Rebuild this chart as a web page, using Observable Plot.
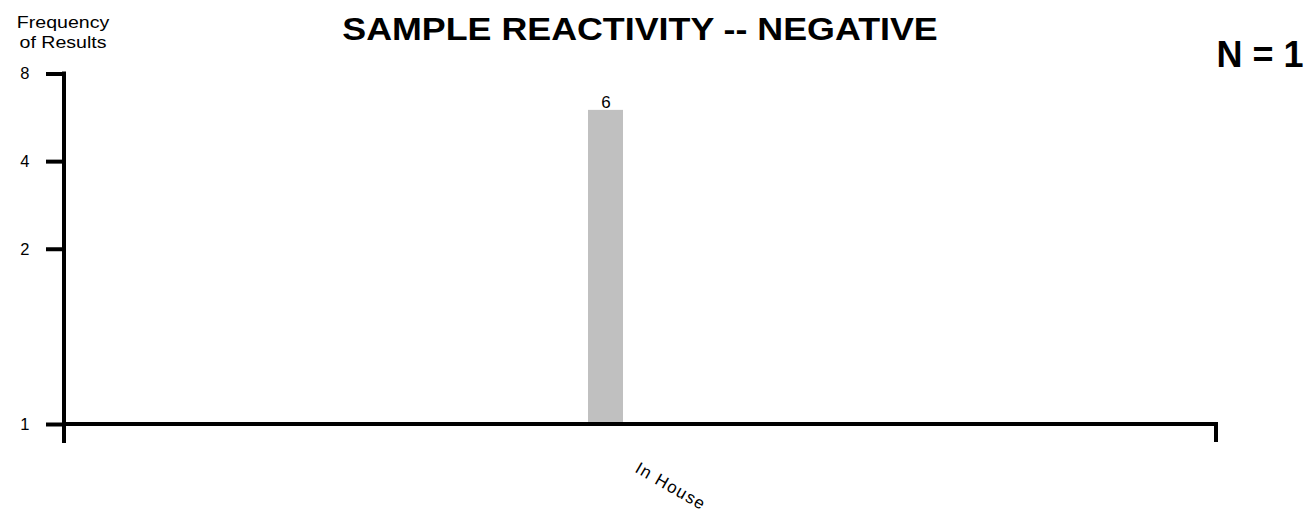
<!DOCTYPE html>
<html><head><meta charset="utf-8">
<script src="https://cdn.jsdelivr.net/npm/d3@7"></script>
<script src="https://cdn.jsdelivr.net/npm/@observablehq/plot@0.6"></script>
<style>
html,body{margin:0;padding:0;background:#fff;}
#chart{position:relative;width:1313px;height:518px;font-family:"Liberation Sans",Arial,sans-serif;color:#000;}
#chart svg{position:absolute;left:0;top:0;}
.title{position:absolute;left:640px;top:13.5px;font-size:31px;line-height:31px;font-weight:bold;white-space:nowrap;transform:translateX(-50%) scaleX(1.155);}
.ylabel{position:absolute;left:63px;top:13.4px;font-size:17px;line-height:20px;text-align:center;white-space:nowrap;transform:translateX(-50%) scaleX(1.15);}
.nlabel{position:absolute;right:9.5px;top:36.5px;font-size:36px;line-height:36px;font-weight:bold;white-space:nowrap;}
</style></head><body><div id="chart"></div>
<script>
// ---- data ----
const categories = ["In House"];
const counts = [6];
const yTickValues = [0.5, 2, 4, 8];
const yTickLabels = ["1", "2", "4", "8"];
const titleText = "SAMPLE REACTIVITY -- NEGATIVE";
const yLabelLines = ["Frequency", "of Results"];
const nText = "N = 1";

// ---- layout ----
const W = 1313, H = 518;
const mL = 64, mR = 97, mT = 73.5, mB = 94;
const barCenter = 605.5;
const font = '"Liberation Sans", Arial, sans-serif';
const yDomain = [yTickValues[0], yTickValues[yTickValues.length - 1]];

const data = categories.map((c, i) => ({category: c, count: counts[i]}));

function axisLines(index, scales, values, dimensions) {
  const {width, height, marginLeft, marginRight, marginBottom} = dimensions;
  const g = d3.create("svg:g")
    .attr("stroke", "black").attr("stroke-width", 4).attr("stroke-linecap", "square");
  const x0 = marginLeft, x1 = width - marginRight, yb = height - marginBottom;
  const yTop = scales.y(yDomain[1]);
  g.append("line").attr("x1", x0).attr("x2", x0).attr("y1", yTop).attr("y2", yb + 17);
  g.append("line").attr("x1", x0).attr("x2", x1).attr("y1", yb).attr("y2", yb);
  g.append("line").attr("x1", x1).attr("x2", x1).attr("y1", yb).attr("y2", yb + 16);
  return g.node();
}

const plot = Plot.plot({
  width: W, height: H,
  marginLeft: mL, marginRight: mR, marginTop: mT, marginBottom: mB,
  style: {fontFamily: font, fontSize: "16px", color: "#000", background: "transparent", overflow: "visible"},
  x: {domain: categories, range: [mL, 2 * barCenter - mL], padding: 0.9374, axis: null},
  y: {type: "log", base: 2, domain: yDomain},
  marks: [
    Plot.barY(data, {x: "category", y1: yDomain[0], y2: "count", fill: "#c0c0c0"}),
    Plot.text(data, {x: "category", y: "count", text: d => String(d.count), lineAnchor: "bottom", dy: -2.5, fontSize: 17, fill: "#000"}),
    Plot.axisY(yTickValues, {
      tickSize: 18, tickPadding: 17, strokeWidth: 4, fontSize: 16.5, stroke: "#000", fill: "#000",
      tickFormat: d => yTickLabels[yTickValues.indexOf(d)], label: null
    }),
    Plot.text(categories, {
      x: d => d, frameAnchor: "bottom", rotate: 30, textAnchor: "start", lineAnchor: "bottom",
      dx: 28, dy: 47, fontSize: 17, fill: "#000"
    }),
    axisLines
  ]
});

const svgSel = d3.select(plot);
svgSel.selectAll("text").style("font-family", font);
svgSel.selectAll("text")
  .filter(function() { return categories.includes(this.textContent); })
  .style("letter-spacing", "1.3px");
// horizontal stretch of the small upright labels, as in the reference
svgSel.selectAll("text")
  .filter(function() { return !this.getAttribute("transform") || !/rotate/.test(this.getAttribute("transform")); })
  .each(function() {
    const anchor = this.closest("[text-anchor]");
    const ta = anchor ? anchor.getAttribute("text-anchor") : "middle";
    this.style.transformBox = "fill-box";
    this.style.transformOrigin = ta === "end" ? "right center" : ta === "start" ? "left center" : "center center";
    if (!this.getAttribute("transform")) this.style.transform = "scaleX(1.15)";
  });

const chart = document.getElementById("chart");
chart.appendChild(plot);

const t = document.createElement("div");
t.className = "title"; t.textContent = titleText; chart.appendChild(t);
const yl = document.createElement("div");
yl.className = "ylabel"; yl.innerHTML = yLabelLines.join("<br>"); chart.appendChild(yl);
const n = document.createElement("div");
n.className = "nlabel"; n.textContent = nText; chart.appendChild(n);
</script>
</body></html>
